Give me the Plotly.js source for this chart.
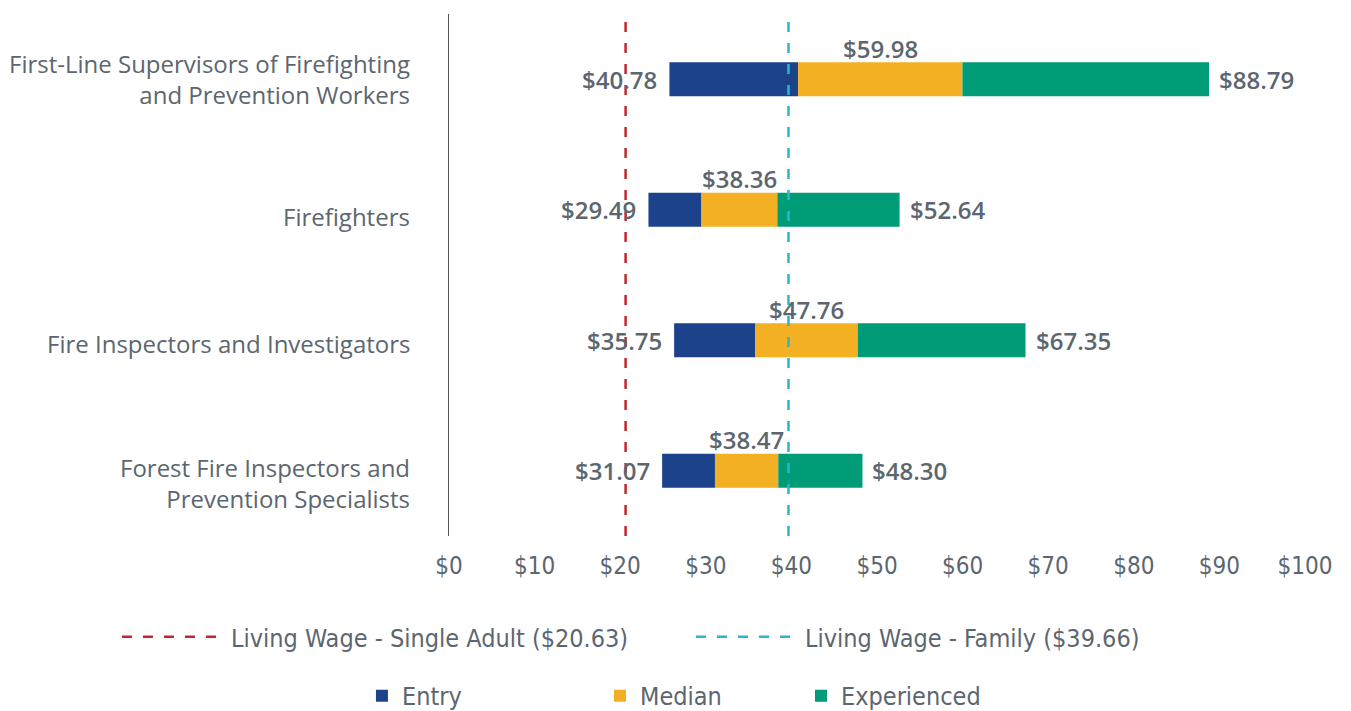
<!DOCTYPE html>
<html>
<head>
<meta charset="utf-8">
<script src="https://cdn.plot.ly/plotly-3.0.1.min.js"></script>
<style>html,body{margin:0;padding:0;background:#fff;}#chart{width:1351px;height:711px;}</style>
</head>
<body>
<div id="chart"></div>
<script>
// ---- data ----
var occupations = [
  "First-Line Supervisors of Firefighting<br>and Prevention Workers",
  "Firefighters",
  "Fire Inspectors and Investigators",
  "Forest Fire Inspectors and<br>Prevention Specialists"
];
var lowWage     = [25.75, 23.3, 26.3, 24.9];   // left end of each bar
var entryWage   = [40.78, 29.49, 35.75, 31.07];
var medianWage  = [59.98, 38.36, 47.76, 38.47];
var expWage     = [88.79, 52.64, 67.35, 48.30];
var livingSingle = 20.63;
var livingFamily = 39.66;
var xTickVals = [0,10,20,30,40,50,60,70,80,90,100];
var xTickText = ["$0","$10","$20","$30","$40","$50","$60","$70","$80","$90","$100"];

// ---- styles ----
var cBlue = "#1b428a", cOrange = "#f3b022", cGreen = "#009b77";
var cRed = "#c1272d", cCyan = "#2bb6c9";
var textCol = "#5c6670";
var narrow = "DejaVu Sans Condensed, Liberation Sans Narrow, sans-serif";
var sans = "Open Sans, Noto Sans, sans-serif";
var catLabelShift = [0, -7, -3, -12];   // vertical nudge of category labels (px)

function diff(a, b){ return a.map(function(v,i){ return v - b[i]; }); }
var barW = 0.26;

var traces = [
  {type:"bar", orientation:"h", name:"Entry", y:occupations, base:lowWage, x:diff(entryWage, lowWage),
   marker:{color:cBlue}, width:barW, hoverinfo:"skip", legend:"legend3"},
  {type:"bar", orientation:"h", name:"Median", y:occupations, base:entryWage, x:diff(medianWage, entryWage),
   marker:{color:cOrange}, width:barW, hoverinfo:"skip", legend:"legend4"},
  {type:"bar", orientation:"h", name:"Experienced", y:occupations, base:medianWage, x:diff(expWage, medianWage),
   marker:{color:cGreen}, width:barW, hoverinfo:"skip", legend:"legend5"},
  {type:"scatter", mode:"lines", name:"Living Wage - Single Adult ($20.63)", x:[livingSingle, livingSingle], y:[0,1],
   yaxis:"y2", line:{color:cRed, width:2.5, dash:"10px,11px"}, hoverinfo:"skip", legend:"legend"},
  {type:"scatter", mode:"lines", name:"Living Wage - Family ($39.66)", x:[livingFamily, livingFamily], y:[0,1],
   yaxis:"y2", line:{color:cCyan, width:2.5, dash:"10px,11px"}, hoverinfo:"skip", legend:"legend2"}
];

var annotations = [];
var labFont = {family:sans, size:24, color:textCol, weight:600};
var catFont = {family:sans, size:24, color:textCol};
for (var i = 0; i < occupations.length; i++) {
  annotations.push({x:0, y:occupations[i], xref:"paper", yref:"y", text:occupations[i], align:"right",
    showarrow:false, xanchor:"right", yanchor:"middle", xshift:-37, yshift:catLabelShift[i], font:catFont});
  annotations.push({x:lowWage[i], y:occupations[i], xref:"x", yref:"y", text:"$" + entryWage[i].toFixed(2),
    showarrow:false, xanchor:"right", yanchor:"middle", xshift:-10, font:labFont});
  annotations.push({x:(entryWage[i] + medianWage[i]) / 2, y:occupations[i], xref:"x", yref:"y", text:"$" + medianWage[i].toFixed(2),
    showarrow:false, xanchor:"center", yanchor:"middle", yshift:31, font:labFont});
  annotations.push({x:expWage[i], y:occupations[i], xref:"x", yref:"y", text:"$" + expWage[i].toFixed(2),
    showarrow:false, xanchor:"left", yanchor:"middle", xshift:8, font:labFont});
}

var legFont = {family:narrow, size:25, color:textCol};
function leg(x, y, iw){ return {orientation:"h", x:x, y:y, xanchor:"left", yanchor:"middle", xref:"paper", yref:"paper",
  font:legFont, itemwidth:iw, bgcolor:"rgba(0,0,0,0)", borderwidth:0, itemclick:false, itemdoubleclick:false}; }

var layout = {
  width:1351, height:711,
  margin:{l:449, r:46, t:14, b:175, autoexpand:false},
  paper_bgcolor:"#fff", plot_bgcolor:"#fff",
  barmode:"overlay",
  showlegend:true,
  xaxis:{range:[0,100], tickvals:xTickVals, ticktext:xTickText, showgrid:false, zeroline:false, showline:false,
    ticks:"", ticklabelstandoff:13, tickfont:{family:narrow, size:24, color:textCol}, fixedrange:true, automargin:false},
  yaxis:{type:"category", autorange:"reversed", range:[3.5,-0.5], showgrid:false, zeroline:false,
    showline:true, linecolor:"#555", linewidth:1, ticks:"", showticklabels:false, fixedrange:true, automargin:false},
  yaxis2:{overlaying:"y", range:[0,1], visible:false, fixedrange:true},
  annotations:annotations,
  legend:  leg(-0.3879, -0.1935, 104),
  legend2: leg(0.2827, -0.1935, 104),
  legend3: leg(-0.1017, -0.3065, 30),
  legend4: leg(0.1764, -0.3065, 30),
  legend5: leg(0.4112, -0.3065, 30)
};

Plotly.newPlot("chart", traces, layout, {displayModeBar:false});
</script>
</body>
</html>
